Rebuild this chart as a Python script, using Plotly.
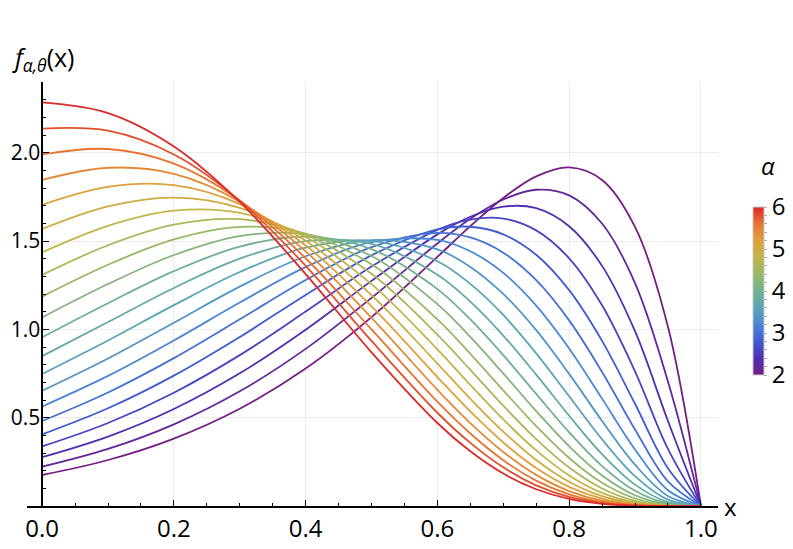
import plotly.graph_objects as go
from plotly.colors import sample_colorscale

x_vals = [0.0, 0.1, 0.2, 0.3, 0.4, 0.5, 0.6, 0.65, 0.7, 0.75, 0.8, 0.85, 0.9, 0.95, 1.0]

# alpha values of the curves
alphas = [2.0, 2.2, 2.4, 2.6, 2.8, 3.0, 3.2, 3.4, 3.6, 3.8, 4.0,
          4.2, 4.4, 4.6, 4.8, 5.0, 5.2, 5.4, 5.6, 5.8, 6.0]

# density values per curve
f_a20 = [0.1755, 0.2604, 0.3817, 0.5506, 0.7781, 1.0690, 1.4100, 1.5842, 1.7436, 1.8656, 1.9166, 1.8456, 1.5798, 1.0143, 0]
f_a22 = [0.2222, 0.3228, 0.4621, 0.6491, 0.8894, 1.1782, 1.4862, 1.6258, 1.7351, 1.7901, 1.7585, 1.5988, 1.2620, 0.7053, 0]
f_a24 = [0.2761, 0.3928, 0.5491, 0.7509, 0.9977, 1.2744, 1.5374, 1.6375, 1.6944, 1.6856, 1.5836, 1.3592, 0.9893, 0.4814, 0]
f_a26 = [0.3372, 0.4697, 0.6414, 0.8541, 1.1003, 1.3551, 1.5634, 1.6212, 1.6267, 1.5602, 1.4019, 1.1360, 0.7624, 0.3229, 0]
f_a28 = [0.4056, 0.5531, 0.7378, 0.9565, 1.1948, 1.4188, 1.5655, 1.5806, 1.5378, 1.4222, 1.2220, 0.9349, 0.5786, 0.2134, 0]
f_a30 = [0.4811, 0.6425, 0.8370, 1.0565, 1.2797, 1.4652, 1.5461, 1.5199, 1.4339, 1.2785, 1.0507, 0.7589, 0.4331, 0.1390, 0]
f_a32 = [0.5631, 0.7364, 0.9370, 1.1516, 1.3525, 1.4931, 1.5068, 1.4422, 1.3193, 1.1342, 0.8914, 0.6078, 0.3199, 0.0894, 0]
f_a34 = [0.6520, 0.8348, 1.0374, 1.2415, 1.4138, 1.5049, 1.4525, 1.3535, 1.2005, 0.9952, 0.7480, 0.4815, 0.2337, 0.0568, 0]
f_a36 = [0.7471, 0.9366, 1.1368, 1.3245, 1.4626, 1.5011, 1.3855, 1.2572, 1.0812, 0.8642, 0.6212, 0.3775, 0.1689, 0.0358, 0]
f_a38 = [0.8481, 1.0411, 1.2343, 1.4002, 1.4993, 1.4836, 1.3096, 1.1570, 0.9648, 0.7435, 0.5111, 0.2933, 0.1210, 0.0223, 0]
f_a40 = [0.9550, 1.1479, 1.3292, 1.4681, 1.5243, 1.4543, 1.2277, 1.0560, 0.8539, 0.6345, 0.4171, 0.2260, 0.0860, 0.0138, 0]
f_a42 = [1.0674, 1.2563, 1.4208, 1.5280, 1.5382, 1.4151, 1.1425, 0.9568, 0.7502, 0.5375, 0.3379, 0.1728, 0.0606, 0.0085, 0]
f_a44 = [1.1852, 1.3657, 1.5087, 1.5797, 1.5419, 1.3678, 1.0560, 0.8611, 0.6547, 0.4523, 0.2719, 0.1313, 0.0425, 0.0052, 0]
f_a46 = [1.3080, 1.4758, 1.5923, 1.6233, 1.5364, 1.3141, 0.9703, 0.7704, 0.5679, 0.3783, 0.2175, 0.0991, 0.0296, 0.0031, 0]
f_a48 = [1.4358, 1.5862, 1.6716, 1.6592, 1.5228, 1.2557, 0.8867, 0.6855, 0.4900, 0.3147, 0.1731, 0.0745, 0.0205, 0.0019, 0]
f_a50 = [1.5681, 1.6963, 1.7460, 1.6875, 1.5017, 1.1940, 0.8063, 0.6069, 0.4206, 0.2604, 0.1370, 0.0557, 0.0141, 0.0011, 0]
f_a52 = [1.7052, 1.8062, 1.8158, 1.7086, 1.4744, 1.1303, 0.7300, 0.5350, 0.3595, 0.2147, 0.1080, 0.0414, 0.0097, 0.0007, 0]
f_a54 = [1.8459, 1.9145, 1.8798, 1.7223, 1.4410, 1.0652, 0.6579, 0.4694, 0.3059, 0.1761, 0.0847, 0.0307, 0.0066, 0.0004, 0]
f_a56 = [1.9899, 2.0208, 1.9380, 1.7288, 1.4025, 0.9996, 0.5905, 0.4102, 0.2592, 0.1439, 0.0662, 0.0226, 0.0045, 0.0002, 0]
f_a58 = [2.1364, 2.1242, 1.9898, 1.7282, 1.3595, 0.9342, 0.5278, 0.3570, 0.2187, 0.1171, 0.0515, 0.0166, 0.0031, 0.0001, 0]
f_a60 = [2.2845, 2.2242, 2.0350, 1.7210, 1.3127, 0.8697, 0.4699, 0.3095, 0.1838, 0.0949, 0.0399, 0.0122, 0.0021, 0.0001, 0]

curves = [f_a20, f_a22, f_a24, f_a26, f_a28, f_a30, f_a32, f_a34, f_a36, f_a38, f_a40,
          f_a42, f_a44, f_a46, f_a48, f_a50, f_a52, f_a54, f_a56, f_a58, f_a60]

# colour bar ticks
cbar_ticks = [2.0, 2.2, 2.4, 2.6, 2.8, 3.0, 3.2, 3.4, 3.6, 3.8, 4.0,
              4.2, 4.4, 4.6, 4.8, 5.0, 5.2, 5.4, 5.6, 5.8, 6.0]
cbar_labels = ['2', '', '', '', '', '3', '', '', '', '', '4',
               '', '', '', '', '5', '', '', '', '', '6']

# rainbow-like colour scale (purple -> red)
rainbow = [
    [0.0, '#781c86'], [0.1, '#4f2fb0'], [0.2, '#3f5ccf'], [0.3, '#4a87d4'],
    [0.4, '#5aa4b6'], [0.5, '#70b08f'], [0.6, '#97b865'], [0.7, '#c3b44a'],
    [0.8, '#dea13b'], [0.9, '#e67532'], [1.0, '#dc2a28'],
]

FONT = 'Open Sans'
FS = 24
fig = go.Figure()

for a, ys in zip(alphas, curves):
    col = sample_colorscale(rainbow, (a - 2) / 4)[0]
    fig.add_trace(go.Scatter(x=x_vals, y=ys, mode='lines',
                             line=dict(color=col, width=1.8, shape='spline'),
                             showlegend=False, hoverinfo='skip'))

# dummy trace just for the colour bar
fig.add_trace(go.Scatter(
    x=[0.5], y=[-5], mode='markers', showlegend=False, hoverinfo='skip',
    marker=dict(color=[2], cmin=2, cmax=6, colorscale=rainbow, showscale=True,
                colorbar=dict(x=1.050, xanchor='left', y=0.507, yanchor='middle',
                              xpad=0, ypad=0,
                              len=168, lenmode='pixels', thickness=10.5,
                              outlinewidth=1, outlinecolor='#c8c8c8',
                              tickvals=cbar_ticks, ticktext=cbar_labels,
                              ticks='outside', ticklen=3, tickcolor='#aaaaaa',
                              tickfont=dict(family=FONT, size=FS, color='black')))))

xr = [-0.023, 1.026]
fig.update_xaxes(range=xr, showline=True, linecolor='black', linewidth=1.6,
                 tickvals=[0, 0.2, 0.4, 0.6, 0.8, 1.0], tickformat='.1f',
                 ticks='inside', ticklen=6, tickwidth=1.3, tickcolor='black',
                 minor=dict(tickmode='linear', tick0=0, dtick=0.05, ticks='inside',
                            ticklen=3.5, tickwidth=1.1, tickcolor='black', showgrid=False),
                 showgrid=True, gridcolor='#ececec', gridwidth=1, zeroline=False,
                 tickfont=dict(family=FONT, size=FS, color='black'))
fig.update_yaxes(range=[0, 2.4], anchor='free', position=-xr[0] / (xr[1] - xr[0]),
                 showline=True, linecolor='black', linewidth=1.6,
                 tickvals=[0.5, 1.0, 1.5, 2.0], tickformat='.1f',
                 ticks='inside', ticklen=6, tickwidth=1.3, tickcolor='black',
                 minor=dict(tickmode='linear', tick0=0, dtick=0.1, ticks='inside',
                            ticklen=3.5, tickwidth=1.1, tickcolor='black', showgrid=False),
                 showgrid=True, gridcolor='#ececec', gridwidth=1, zeroline=False,
                 ticklabelstandoff=-3,
                 tickfont=dict(family=FONT, size=21, color='black'))

# axis titles and colour bar title
fig.add_annotation(x=-0.0246, y=1.0566, xref='paper', yref='paper', xanchor='left', yanchor='middle',
                   text='<i>f</i><sub><i>α,θ</i></sub>(x)', showarrow=False,
                   font=dict(family=FONT, size=25, color='black'))
fig.add_annotation(x=1.0174, y=0.0, xref='paper', yref='paper', xanchor='center', yanchor='middle',
                   text='x', showarrow=False, font=dict(family=FONT, size=FS, color='black'))
fig.add_annotation(x=1.0724, y=0.804, xref='paper', yref='paper', xanchor='center', yanchor='middle',
                   text='<i>α</i>', showarrow=False, font=dict(family=FONT, size=FS, color='black'))

# margins are shifted 8px to make up for the page body margin
fig.update_layout(width=793, height=549,
                  margin=dict(l=19, r=83, t=74, b=51, autoexpand=False),
                  paper_bgcolor='white', plot_bgcolor='white',
                  font=dict(family=FONT, color='black'))

fig.write_html("out.html")
